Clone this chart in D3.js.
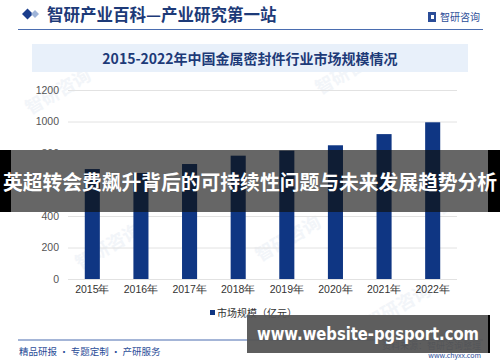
<!DOCTYPE html>
<html>
<head>
<meta charset="utf-8">
<script src="https://cdn.jsdelivr.net/npm/d3@7"></script>
<style>
  html, body { margin: 0; padding: 0; background: #fff; }
  svg { display: block; font-family: "Noto Sans CJK SC", "Noto Sans", sans-serif; }
</style>
</head>
<body>
<svg id="chart" width="500" height="362"></svg>
<script>
// chart data
var years = ["2015年", "2016年", "2017年", "2018年", "2019年", "2020年", "2021年", "2022年"];
var marketSize = [698, 673, 730, 783, 815, 849, 920, 995];
var yTicks = [0, 200, 400, 600, 800, 1000, 1200];

var headerTitle = "智研产业百科—产业研究第一站";
var chartTitle = "2015-2022年中国金属密封件行业市场规模情况";
var legendLabel = "市场规模（亿元）";
var footerLeft = "精品研报 · 专题定制 · 产研服务";
var bannerText = "英超转会费飙升背后的可持续性问题与未来发展趋势分析";
var siteText = "www.website-pgsport.com";

var svg = d3.select("#chart");
var barColor = "#0f3683";
var darkBlue = "#1d3a78";

// -------- faint watermarks --------
var wm = [[30, 115], [320, 95], [80, 270], [260, 262], [440, 215], [370, 330]];
wm.forEach(function(p) {
  svg.append("text")
    .attr("x", p[0]).attr("y", p[1])
    .attr("transform", "rotate(-30," + p[0] + "," + p[1] + ")")
    .attr("fill", "#f2f5f9")
    .attr("font-size", 18)
    .attr("font-weight", "bold")
    .text("智研咨询");
});

// -------- header --------
svg.append("path")
  .attr("d", "M22,14 L27.5,8.5 L33,14 L27.5,19.5 Z")
  .attr("fill", "#1a3d8c");
svg.append("path")
  .attr("d", "M31,14 L35,10 L39,14 L35,18 Z")
  .attr("fill", "#9fb4d8");
svg.append("text")
  .attr("x", 47).attr("y", 20.5)
  .attr("fill", darkBlue)
  .attr("font-size", 16.5)
  .attr("font-weight", "bold")
  .text(headerTitle);

// logo at the right
svg.append("rect").attr("x", 428).attr("y", 12).attr("width", 8).attr("height", 10).attr("fill", "#2b4d98");
svg.append("rect").attr("x", 431).attr("y", 15).attr("width", 3).attr("height", 4).attr("fill", "#fff");
svg.append("text")
  .attr("x", 440).attr("y", 21)
  .attr("fill", "#2b4d98")
  .attr("font-size", 10)
  .text("智研咨询");

svg.append("line")
  .attr("x1", 18).attr("x2", 483)
  .attr("y1", 29.5).attr("y2", 29.5)
  .attr("stroke", "#4a6db0").attr("stroke-width", 1.2);

// -------- chart title box --------
svg.append("rect")
  .attr("x", 32).attr("y", 44)
  .attr("width", 436).attr("height", 28)
  .attr("fill", "#e8f0fa");
svg.append("text")
  .attr("x", 250).attr("y", 63.5)
  .attr("text-anchor", "middle")
  .attr("fill", darkBlue)
  .attr("font-size", 14)
  .attr("font-weight", "bold")
  .text(chartTitle);

// -------- scales --------
var x = d3.scaleBand()
  .domain(years)
  .range([68, 457])
  .paddingInner(0.69)
  .paddingOuter(0.345);

var y = d3.scaleLinear()
  .domain([0, 1200])
  .range([279, 90]);

// grid lines
svg.append("g")
  .selectAll("line")
  .data(yTicks)
  .join("line")
  .attr("x1", 68).attr("x2", 457)
  .attr("y1", function(d) { return y(d) + 0.5; })
  .attr("y2", function(d) { return y(d) + 0.5; })
  .attr("stroke", "#e2e2e2")
  .attr("stroke-width", 1);

// y axis labels
var yAxis = svg.append("g")
  .attr("transform", "translate(59,0)")
  .call(d3.axisLeft(y).tickValues(yTicks).tickFormat(d3.format("d")).tickSize(0).tickPadding(0));
yAxis.select(".domain").remove();
yAxis.selectAll("text")
  .attr("fill", "#555")
  .attr("font-size", 10.5)
  .style("font-family", "Liberation Sans, Arial, sans-serif");

// bars
svg.append("g")
  .selectAll("rect")
  .data(marketSize)
  .join("rect")
  .attr("x", function(d, i) { return x(years[i]); })
  .attr("y", function(d) { return y(d); })
  .attr("width", x.bandwidth())
  .attr("height", function(d) { return y(0) - y(d); })
  .attr("fill", barColor);

// x axis labels
var xAxis = svg.append("g")
  .attr("transform", "translate(0,284)")
  .call(d3.axisBottom(x).tickSize(0).tickPadding(0));
xAxis.select(".domain").remove();
xAxis.selectAll("text")
  .attr("fill", "#333")
  .attr("font-size", 10.5)
  .attr("dy", "0.9em");

// legend
svg.append("rect")
  .attr("x", 210).attr("y", 310)
  .attr("width", 5).attr("height", 5)
  .attr("fill", barColor);
svg.append("text")
  .attr("x", 217).attr("y", 316.5)
  .attr("fill", "#333")
  .attr("font-size", 10)
  .text(legendLabel);

// -------- footer --------
svg.append("line")
  .attr("x1", 18).attr("x2", 483)
  .attr("y1", 340).attr("y2", 340)
  .attr("stroke", "#4a6db0").attr("stroke-width", 1.2);
svg.append("text")
  .attr("x", 19).attr("y", 355)
  .attr("fill", "#2b4d98")
  .attr("font-size", 9.5)
  .text(footerLeft);
svg.append("text")
  .attr("x", 481).attr("y", 349)
  .attr("text-anchor", "end")
  .attr("fill", "#2b4d98")
  .attr("font-size", 9)
  .text("资料来源：智研咨询整理");
svg.append("text")
  .attr("x", 481).attr("y", 358)
  .attr("text-anchor", "end")
  .attr("fill", "#2b4d98")
  .attr("font-size", 7)
  .text("www.chyxx.com");

// -------- overlay banners --------
svg.append("rect")
  .attr("x", 0).attr("y", 150)
  .attr("width", 500).attr("height", 62)
  .attr("fill", "#000");
svg.append("rect")
  .attr("x", 11).attr("y", 150)
  .attr("width", 477).attr("height", 62)
  .attr("fill", "#fff").attr("opacity", 0.4);
// bars show through darker inside the banner
svg.append("g")
  .selectAll("rect")
  .data(marketSize)
  .join("rect")
  .attr("x", function(d, i) { return x(years[i]); })
  .attr("y", function(d) { return Math.max(y(d), 150); })
  .attr("width", x.bandwidth())
  .attr("height", function(d) { return 212 - Math.max(y(d), 150); })
  .attr("fill", "#06152f")
  .attr("opacity", 0.9);
svg.append("text")
  .attr("x", 250).attr("y", 190)
  .attr("text-anchor", "middle")
  .attr("fill", "#fff")
  .attr("font-size", 20)
  .attr("font-weight", "bold")
  .attr("textLength", 494)
  .attr("lengthAdjust", "spacingAndGlyphs")
  .text(bannerText);

svg.append("rect")
  .attr("x", 247).attr("y", 315)
  .attr("width", 241).attr("height", 38)
  .attr("fill", "#555").attr("opacity", 0.95);
svg.append("rect")
  .attr("x", 488).attr("y", 315)
  .attr("width", 2).attr("height", 38)
  .attr("fill", "#000");
svg.append("text")
  .attr("x", 368).attr("y", 340)
  .attr("text-anchor", "middle")
  .attr("fill", "#fff")
  .attr("font-size", 18)
  .attr("font-weight", "bold")
  .attr("textLength", 222)
  .attr("lengthAdjust", "spacingAndGlyphs")
  .style("font-family", "DejaVu Sans, sans-serif")
  .text(siteText);
</script>
</body>
</html>
